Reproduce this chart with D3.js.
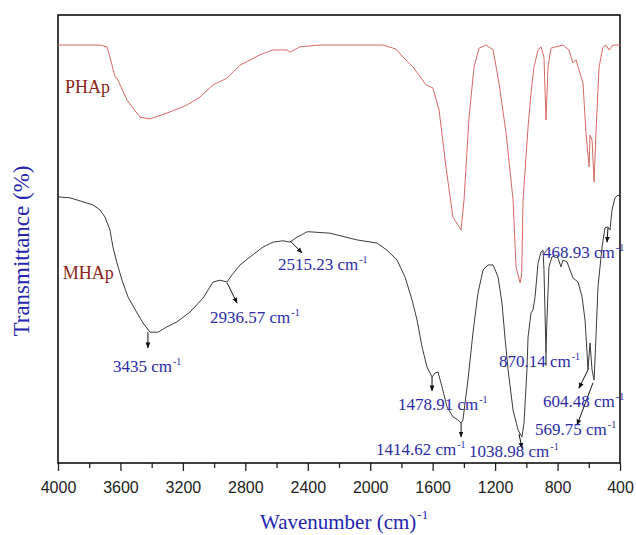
<!DOCTYPE html>
<html>
<head>
<meta charset="utf-8">
<script src="https://cdn.jsdelivr.net/npm/d3@7"></script>
<style>
  body { margin: 0; background: #fff; }
  text { font-family: "Liberation Serif", "Times New Roman", serif; }
  .tick text { font-family: "Liberation Sans", Arial, sans-serif; }
</style>
</head>
<body>
<div id="chart"></div>
<script>
// PHAp spectrum (wavenumber, transmittance %)
var phapWn = [4000, 3731, 3686, 3667, 3635, 3622, 3558, 3475, 3411, 3302, 3174, 3090, 3007, 2917, 2834, 2706,
  2623, 2533, 2514, 2450, 2322, 1918, 1835, 1790, 1726, 1643, 1598, 1559, 1515, 1470, 1450, 1418, 1399, 1367,
  1335, 1303, 1258, 1213, 1175, 1130, 1085, 1066, 1040, 1030, 1021, 989, 970, 951, 925, 906, 887, 874, 861, 842,
  765, 727, 701, 682, 637, 618, 598, 592, 579, 566, 554, 534, 509, 490, 470, 445, 400];
var phapT = [93.3, 93.3, 92.9, 90.6, 86.2, 85.9, 81.0, 77.2, 76.8, 78.1, 79.9, 81.7, 84.4, 85.9, 88.8, 91.1,
  92.2, 92.2, 91.7, 92.9, 93.3, 93.3, 92.4, 90.6, 88.4, 84.4, 83.7, 78.8, 66.1, 54.9, 53.8, 52.0, 58.7, 77.2,
  88.4, 92.6, 93.3, 92.2, 84.8, 73.7, 58.7, 43.8, 40.2, 42.0, 58.7, 75.0, 82.6, 88.4, 92.2, 92.9, 90.6, 76.6, 88.4, 92.6,
  93.3, 92.2, 89.3, 90.0, 84.8, 73.7, 66.1, 73.2, 72.1, 62.7, 73.7, 88.4, 92.9, 93.3, 92.2, 93.3, 93.3];

// MHAp spectrum
var mhapWn = [4000, 3923, 3840, 3776, 3731, 3699, 3667, 3648, 3622, 3590, 3552, 3494, 3456, 3411, 3359, 3302,
  3238, 3154, 3071, 3007, 2962, 2917, 2885, 2834, 2770, 2687, 2623, 2559, 2514, 2469, 2405, 2386, 2258, 2085,
  1957, 1892, 1828, 1777, 1732, 1700, 1668, 1636, 1604, 1585, 1566, 1540, 1508, 1470, 1438, 1418, 1406, 1374,
  1342, 1310, 1277, 1246, 1213, 1181, 1156, 1137, 1117, 1085, 1053, 1028, 1015, 996, 989, 970, 957, 944, 925,
  906, 893, 887, 874, 868, 855, 836, 804, 778, 765, 740, 720, 701, 669, 643, 624, 611, 605, 592, 579, 566, 554,
  541, 515, 496, 477, 464, 451, 432, 413, 400];
var mhapT = [59.4, 59.2, 58.3, 57.6, 56.5, 54.9, 52.0, 48.2, 44.6, 40.8, 37.1, 33.5, 31.3, 29.2, 29.2, 30.4,
  31.5, 33.7, 36.8, 40.4, 40.8, 40.4, 42.0, 44.2, 46.0, 48.2, 49.3, 49.6, 49.3, 50.4, 51.6, 51.6, 51.3, 49.8,
  49.1, 47.5, 45.3, 41.5, 36.4, 31.9, 25.9, 21.4, 19.2, 20.1, 20.3, 17.0, 12.5, 10.3, 9.6, 8.9, 9.6, 18.5,
  29.0, 37.9, 43.1, 44.2, 44.2, 41.5, 35.7, 28.1, 20.8, 11.8, 7.4, 5.8, 8.9, 20.8, 28.1, 33.5, 34.2, 37.1, 44.6,
  47.1, 47.5, 43.1, 24.6, 31.9, 43.8, 46.0, 46.4, 43.8, 45.3, 44.9, 43.1, 41.3, 40.4, 37.1, 31.9, 24.6, 20.8, 26.8, 20.8, 18.5, 28.1,
  39.3, 48.2, 52.5, 52.7, 52.0, 56.5, 59.2, 59.8, 59.4];

// Peak annotations
var annoText  = ["3435", "2936.57", "2515.23", "1478.91", "1414.62", "1038.98", "870.14", "604.48", "569.75", "468.93"];
var annoWn    = [3648, 3026, 2591, 1822, 1963, 1367, 1175, 893, 944, 893];
var annoT     = [20.3, 31.3, 43.1, 11.8, 1.8, 1.3, 21.4, 12.5, 6.3, 45.8];
var arrowFrom = [[3424, 29.2], [2917, 40.2], [2514, 49.6], [1604, 19.2], [1418, 8.9], [1047, 6.5], [874, 24.6], [605, 20.8], [573, 17.9], [477, 52.5]];
var arrowTo   = [[3424, 25.7], [2853, 35.7], [2437, 46.9], [1604, 16.1], [1418, 5.8], [1028, 3.3], [874, 21.7], [663, 16.7], [675, 8.5], [483, 49.3]];
var arrowHead = [true, true, true, true, true, true, false, true, true, true];

var majorTicks = [4000, 3600, 3200, 2800, 2400, 2000, 1600, 1200, 800, 400];
var minorTicks = [3800, 3400, 3000, 2600, 2200, 1800, 1400, 1000, 600];

var seriesNames = ["PHAp", "MHAp"];
var seriesLabelAt = [[3955, 82.5], [3970, 41.1]];

// --
var width = 636, height = 535;
var plot = { left: 58, right: 620, top: 15, bottom: 463 };

var svg = d3.select("#chart")
  .append("svg")
  .attr("width", width)
  .attr("height", height);

var defs = svg.append("defs");
defs.append("marker")
  .attr("id", "arrow")
  .attr("viewBox", "0 -5 10 10")
  .attr("refX", 9)
  .attr("refY", 0)
  .attr("markerWidth", 6)
  .attr("markerHeight", 6)
  .attr("markerUnits", "userSpaceOnUse")
  .attr("orient", "auto")
  .append("path")
  .attr("d", "M0,-4L10,0L0,4Z")
  .attr("fill", "#111");

var x = d3.scaleLinear().domain([4000, 400]).range([plot.left, plot.right]);
var y = d3.scaleLinear().domain([0, 100]).range([plot.bottom, plot.top]);

// axes
svg.append("g")
  .attr("transform", "translate(0," + plot.bottom + ")")
  .call(d3.axisBottom(x).tickValues(minorTicks).tickSize(5).tickFormat(""))
  .call(function(g) { g.select(".domain").remove(); })
  .selectAll("line").attr("stroke", "#222").attr("stroke-width", 1.3);

var xAxis = svg.append("g")
  .attr("transform", "translate(0," + plot.bottom + ")")
  .call(d3.axisBottom(x).tickValues(majorTicks).tickSize(8).tickPadding(11).tickFormat(d3.format("d")));
xAxis.select(".domain").remove();
xAxis.selectAll("line").attr("stroke", "#222").attr("stroke-width", 1.3);
xAxis.selectAll("text").attr("font-size", 16).attr("fill", "#222");

// frame
svg.append("rect")
  .attr("x", plot.left)
  .attr("y", plot.top)
  .attr("width", plot.right - plot.left)
  .attr("height", plot.bottom - plot.top)
  .attr("fill", "none")
  .attr("stroke", "#111")
  .attr("stroke-width", 1.6);

// spectra
var line = d3.line()
  .x(function(d) { return x(d[0]); })
  .y(function(d) { return y(d[1]); });

svg.append("path")
  .datum(phapWn.map(function(w, i) { return [w, phapT[i]]; }))
  .attr("d", line)
  .attr("fill", "none")
  .attr("stroke", "#d66a63")
  .attr("stroke-width", 1);

svg.append("path")
  .datum(mhapWn.map(function(w, i) { return [w, mhapT[i]]; }))
  .attr("d", line)
  .attr("fill", "none")
  .attr("stroke", "#3a3a3a")
  .attr("stroke-width", 1);

// series labels
svg.selectAll(".series-label")
  .data(seriesNames)
  .enter()
  .append("text")
  .attr("class", "series-label")
  .attr("x", function(d, i) { return x(seriesLabelAt[i][0]); })
  .attr("y", function(d, i) { return y(seriesLabelAt[i][1]); })
  .attr("font-size", 18)
  .attr("fill", "#8b2420")
  .text(function(d) { return d; });

// arrows
svg.selectAll(".arrow")
  .data(arrowFrom)
  .enter()
  .append("line")
  .attr("class", "arrow")
  .attr("x1", function(d) { return x(d[0]); })
  .attr("y1", function(d) { return y(d[1]); })
  .attr("x2", function(d, i) { return x(arrowTo[i][0]); })
  .attr("y2", function(d, i) { return y(arrowTo[i][1]); })
  .attr("stroke", "#111")
  .attr("stroke-width", 1)
  .attr("marker-end", function(d, i) { return arrowHead[i] ? "url(#arrow)" : null; });

// peak labels
var anno = svg.selectAll(".anno")
  .data(annoText)
  .enter()
  .append("text")
  .attr("class", "anno")
  .attr("x", function(d, i) { return x(annoWn[i]); })
  .attr("y", function(d, i) { return y(annoT[i]); })
  .attr("font-size", 17)
  .attr("fill", "#2b2ba8");
anno.append("tspan").text(function(d) { return d + " cm"; });
anno.append("tspan").attr("font-size", 10).attr("dy", -7).attr("dx", 1).text("-1");

// axis titles
var xt = svg.append("text")
  .attr("x", 260)
  .attr("y", 529)
  .attr("font-size", 21)
  .attr("fill", "#2424b0");
xt.append("tspan").text("Wavenumber (cm)");
xt.append("tspan").attr("font-size", 13).attr("dy", -10).attr("dx", 1).text("-1");

svg.append("text")
  .attr("transform", "translate(29,251) rotate(-90)")
  .attr("text-anchor", "middle")
  .attr("font-size", 23)
  .attr("fill", "#2424b0")
  .text("Transmittance (%)");
</script>
</body>
</html>
